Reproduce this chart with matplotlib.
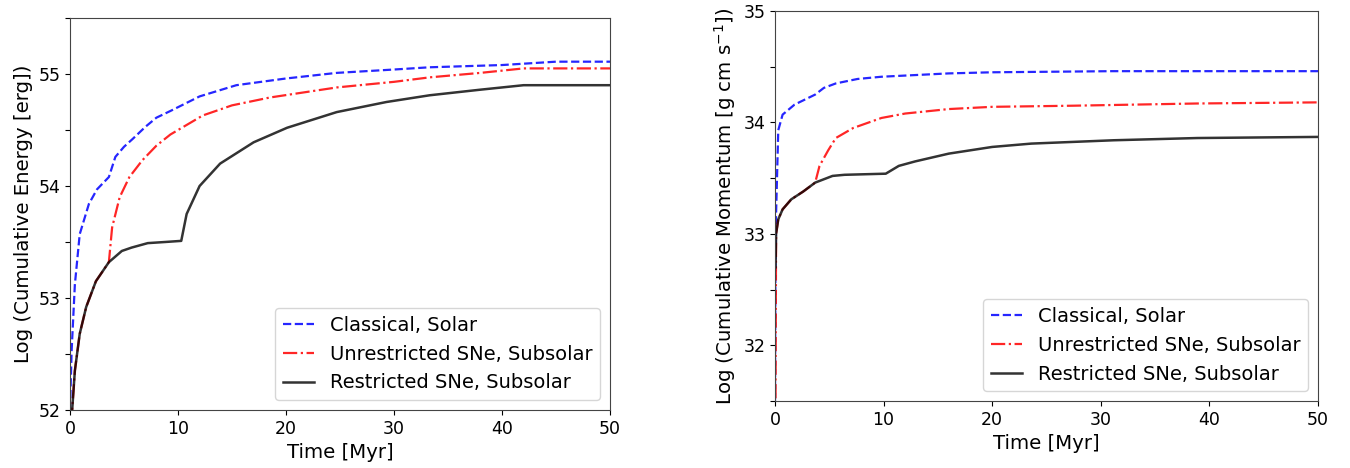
import matplotlib.pyplot as plt

# Cumulative energy (log erg) vs time
t_energy_classical = [0.0, 0.15, 0.45, 0.9, 1.75, 2.5, 3.6, 4.2, 5.0, 5.8, 7.0, 8.0, 9.3, 12.0,
                      15.4, 20.0, 24.7, 30.0, 33.3, 40.0, 45.0, 50.0]
e_classical = [52.0, 52.53, 53.12, 53.57, 53.84, 53.97, 54.08, 54.26, 54.35, 54.42, 54.53, 54.61,
               54.67, 54.8, 54.9, 54.96, 55.01, 55.04, 55.06, 55.08, 55.11, 55.11]

t_energy_unres = [0.0, 0.2, 0.45, 0.9, 1.5, 2.4, 3.6, 3.9, 4.6, 5.5, 6.7, 8.0, 9.3, 12.3, 15.0,
                  18.5, 24.7, 30.0, 33.3, 38.0, 42.0, 50.0]
e_unres = [50.0, 52.0, 52.35, 52.68, 52.92, 53.15, 53.32, 53.63, 53.9, 54.08, 54.23, 54.36, 54.46,
           54.63, 54.72, 54.79, 54.88, 54.93, 54.97, 55.01, 55.05, 55.05]

t_energy_res = [0.0, 0.2, 0.45, 0.9, 1.5, 2.4, 3.6, 4.8, 5.7, 7.2, 8.8, 10.3, 10.8, 12.0, 13.9,
                17.0, 20.1, 24.7, 29.3, 33.3, 38.0, 42.0, 50.0]
e_res = [50.0, 52.0, 52.35, 52.68, 52.92, 53.15, 53.32, 53.42, 53.45, 53.49, 53.5, 53.51, 53.75,
         54.0, 54.2, 54.39, 54.52, 54.66, 54.75, 54.81, 54.86, 54.9, 54.9]

# Cumulative momentum (log g cm s^-1) vs time
t_mom_classical = [0.0, 0.05, 0.3, 0.7, 1.8, 3.7, 4.5, 5.6, 7.6, 9.8, 16.0, 20.0, 31.0, 50.0]
p_classical = [31.5, 33.0, 33.93, 34.07, 34.16, 34.25, 34.31, 34.35, 34.39, 34.41, 34.44, 34.45,
               34.46, 34.46]

t_mom_unres = [0.0, 0.1, 0.3, 0.7, 1.5, 2.6, 3.7, 4.1, 4.9, 5.6, 7.2, 9.8, 12.0, 16.0, 20.0,
               27.4, 38.9, 50.0]
p_unres = [30.0, 33.0, 33.13, 33.22, 33.31, 33.38, 33.46, 33.61, 33.75, 33.86, 33.95, 34.04,
           34.08, 34.12, 34.14, 34.15, 34.17, 34.18]

t_mom_res = [0.05, 0.1, 0.3, 0.7, 1.5, 2.6, 3.7, 5.3, 6.4, 10.2, 11.4, 12.9, 16.0, 20.0, 23.6,
             31.2, 38.9, 50.0]
p_res = [32.7, 33.0, 33.13, 33.22, 33.31, 33.38, 33.46, 33.52, 33.53, 33.54, 33.61, 33.65,
         33.72, 33.78, 33.81, 33.84, 33.86, 33.87]

labels = ["Classical, Solar", "Unrestricted SNe, Subsolar", "Restricted SNe, Subsolar"]
tick_fs = 12.5
label_fs = 14.2
legend_fs = 14

fig = plt.figure(figsize=(13.5, 4.68), dpi=100)
ax1 = fig.add_axes([70 / 1350, 58 / 468, 540 / 1350, 392 / 468])
ax2 = fig.add_axes([775 / 1350, 67 / 468, 543 / 1350, 390 / 468])

# Energy panel
ax1.plot(t_energy_classical, e_classical, "b--", lw=1.6, alpha=0.85, label=labels[0])
ax1.plot(t_energy_unres, e_unres, "r-.", lw=1.6, alpha=0.85, label=labels[1])
ax1.plot(t_energy_res, e_res, "k-", lw=1.8, alpha=0.8, label=labels[2])
ax1.set_xlim(0, 50)
ax1.set_ylim(52, 55.5)
ax1.set_yticks([52, 52.5, 53, 53.5, 54, 54.5, 55, 55.5])
ax1.set_yticklabels(["52", "", "53", "", "54", "", "55", ""])
ax1.set_xlabel("Time [Myr]", fontsize=label_fs)
ax1.set_ylabel("Log (Cumulative Energy [erg])", fontsize=label_fs)

# Momentum panel
ax2.plot(t_mom_classical, p_classical, "b--", lw=1.6, alpha=0.85, label=labels[0])
ax2.plot(t_mom_unres, p_unres, "r-.", lw=1.6, alpha=0.85, label=labels[1])
ax2.plot(t_mom_res, p_res, "k-", lw=1.8, alpha=0.8, label=labels[2])
ax2.set_xlim(0, 50)
ax2.set_ylim(31.5, 35)
ax2.set_yticks([31.5, 32, 32.5, 33, 33.5, 34, 34.5, 35])
ax2.set_yticklabels(["", "32", "", "33", "", "34", "", "35"])
ax2.set_xlabel("Time [Myr]", fontsize=label_fs)
ax2.set_ylabel("Log (Cumulative Momentum [g cm s$^{-1}$])", fontsize=label_fs)

for ax in (ax1, ax2):
    ax.set_xticks([0, 10, 20, 30, 40, 50])
    ax.tick_params(labelsize=tick_fs)
    for s in ax.spines.values():
        s.set_color("#444444")
    ax.legend(loc="lower right", fontsize=legend_fs, handlelength=1.6)

fig.savefig("out.png", dpi=100)
